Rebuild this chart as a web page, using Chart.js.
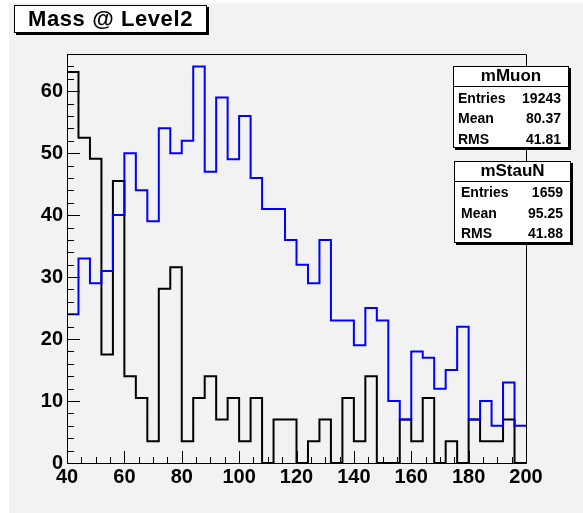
<!DOCTYPE html>
<html>
<head>
<meta charset="utf-8">
<script src="https://cdn.jsdelivr.net/npm/chart.js@4.4.1/dist/chart.umd.min.js"></script>
<style>
  html, body { margin: 0; padding: 0; background: #ffffff; }
  body { width: 583px; height: 513px; position: relative; overflow: hidden; font-family: "Liberation Sans", Arial, sans-serif; font-weight: bold; color: #000; }
  #pad { position: absolute; left: 9px; top: 3px; width: 574px; height: 510px; background: #f2f2f2; }
  #wrap { position: absolute; left: 0; top: 0; width: 583px; height: 513px; }
  .box { position: absolute; background: #ffffff; border: 1px solid #000; box-shadow: 2px 2px 0 #000; box-sizing: border-box; }
  .t { position: absolute; white-space: nowrap; line-height: 20px; height: 20px; }
  .hl { position: absolute; height: 0; border-top: 1px solid #000; }
</style>
</head>
<body>
<div id="pad"></div>
<div id="wrap"><canvas id="c" width="583" height="513"></canvas></div>

<div class="box" style="left:14px;top:5px;width:193px;height:28px;"></div>
<div class="t" style="left:14px;top:5px;width:193px;height:28px;line-height:28px;text-align:center;font-size:22px;letter-spacing:0.6px;">Mass @ Level2</div>

<div class="box" style="left:453px;top:66px;width:116px;height:82px;"></div>
<div class="hl" style="left:453px;top:86px;width:116px;"></div>
<div class="t" style="left:453px;top:66px;width:116px;text-align:center;font-size:17px;">mMuon</div>
<div class="t" style="left:458px;top:88px;font-size:14px;">Entries</div>
<div class="t" style="left:458px;top:108px;font-size:14px;">Mean</div>
<div class="t" style="left:458px;top:129px;font-size:14px;">RMS</div>
<div class="t" style="right:22px;top:88px;font-size:14px;text-align:right;">19243</div>
<div class="t" style="right:22px;top:108px;font-size:14px;text-align:right;">80.37</div>
<div class="t" style="right:22px;top:129px;font-size:14px;text-align:right;">41.81</div>

<div class="box" style="left:454px;top:161px;width:117px;height:82px;"></div>
<div class="hl" style="left:454px;top:181px;width:117px;"></div>
<div class="t" style="left:454px;top:161px;width:117px;text-align:center;font-size:17px;">mStauN</div>
<div class="t" style="left:461px;top:182px;font-size:14px;">Entries</div>
<div class="t" style="left:461px;top:203px;font-size:14px;">Mean</div>
<div class="t" style="left:461px;top:223px;font-size:14px;">RMS</div>
<div class="t" style="right:20px;top:182px;font-size:14px;text-align:right;">1659</div>
<div class="t" style="right:20px;top:203px;font-size:14px;text-align:right;">95.25</div>
<div class="t" style="right:20px;top:223px;font-size:14px;text-align:right;">41.88</div>

<script>
// Bin lower edges (bin width 4, range 40-200)
const binEdges = [40,44,48,52,56,60,64,68,72,76,80,84,88,92,96,100,104,108,112,116,
                  120,124,128,132,136,140,144,148,152,156,160,164,168,172,176,180,184,188,192,196];
const xMax = 200;
// mMuon histogram (blue)
const muonCounts = [24,33,29,31,40,50,44,39,54,50,52,64,47,59,49,56,46,41,41,36,
                    32,29,36,23,23,19,25,23,10,7,18,17,12,15,22,7,10,6,13,6];
// mStauN histogram (black, scaled)
const stauCounts = [63.1,52.5,49.1,17.5,45.5,14.0,10.5,3.5,28.1,31.6,3.5,10.5,14.0,7.0,10.5,3.5,10.5,0,7.0,7.0,
                    0,3.5,7.0,0,10.5,3.5,14.0,0,0,7.0,3.5,10.5,0,3.5,0,7.0,3.5,3.5,7.0,0];
const xTicks = [40,60,80,100,120,140,160,180,200];
const yTicks = [0,10,20,30,40,50,60];

function stepPoints(vals) {
  const pts = binEdges.map((e, i) => ({x: e, y: vals[i]}));
  pts.push({x: xMax, y: vals[vals.length - 1]});
  return pts;
}

const framePlugin = {
  id: 'frame',
  afterDraw(chart) {
    const {ctx, chartArea: a, scales: {x, y}} = chart;
    ctx.save();
    ctx.strokeStyle = '#000';
    ctx.lineWidth = 1;
    ctx.beginPath();
    ctx.rect(Math.round(a.left) + 0.5, Math.round(a.top) + 0.5, Math.round(a.right - a.left), Math.round(a.bottom - a.top));
    ctx.stroke();
    ctx.beginPath();
    for (let v = 40; v <= 200; v += 5) {
      const px = Math.round(x.getPixelForValue(v)) + 0.5;
      const len = (v % 20 === 0) ? 12 : 6;
      ctx.moveTo(px, a.bottom);
      ctx.lineTo(px, a.bottom - len);
    }
    for (let v = 0; v <= 66; v += 2) {
      const py = Math.round(y.getPixelForValue(v)) + 0.5;
      const len = (v % 10 === 0) ? 13 : 7;
      ctx.moveTo(a.left, py);
      ctx.lineTo(a.left + len, py);
    }
    ctx.stroke();
    ctx.restore();
  }
};

new Chart(document.getElementById('c'), {
  type: 'line',
  data: {
    datasets: [
      { label: 'mMuon', data: stepPoints(muonCounts), borderColor: '#0000ff', borderWidth: 2,
        stepped: 'before', pointRadius: 0, fill: false },
      { label: 'mStauN', data: stepPoints(stauCounts), borderColor: '#000000', borderWidth: 2,
        stepped: 'before', pointRadius: 0, fill: false }
    ]
  },
  options: {
    responsive: false,
    animation: false,
    layout: { padding: { left: 0, right: 57, top: 54, bottom: 0 } },
    plugins: { legend: { display: false }, tooltip: { enabled: false } },
    scales: {
      x: {
        type: 'linear', min: 40, max: 200,
        afterFit(s) { s.height = 50; },
        afterBuildTicks(s) { s.ticks = xTicks.map(v => ({value: v})); },
        grid: { display: false, drawTicks: false },
        border: { display: false },
        ticks: { padding: 2, color: '#000', maxRotation: 0, autoSkip: false,
                 font: { family: 'Liberation Sans', size: 20, weight: 'bold' } }
      },
      y: {
        type: 'linear', min: 0, max: 66,
        afterFit(s) { s.width = 67; },
        afterBuildTicks(s) { s.ticks = yTicks.map(v => ({value: v})); },
        grid: { display: false, drawTicks: false },
        border: { display: false },
        ticks: { padding: 4, color: '#000', autoSkip: false,
                 font: { family: 'Liberation Sans', size: 20, weight: 'bold' } }
      }
    }
  },
  plugins: [framePlugin]
});
</script>
</body>
</html>
